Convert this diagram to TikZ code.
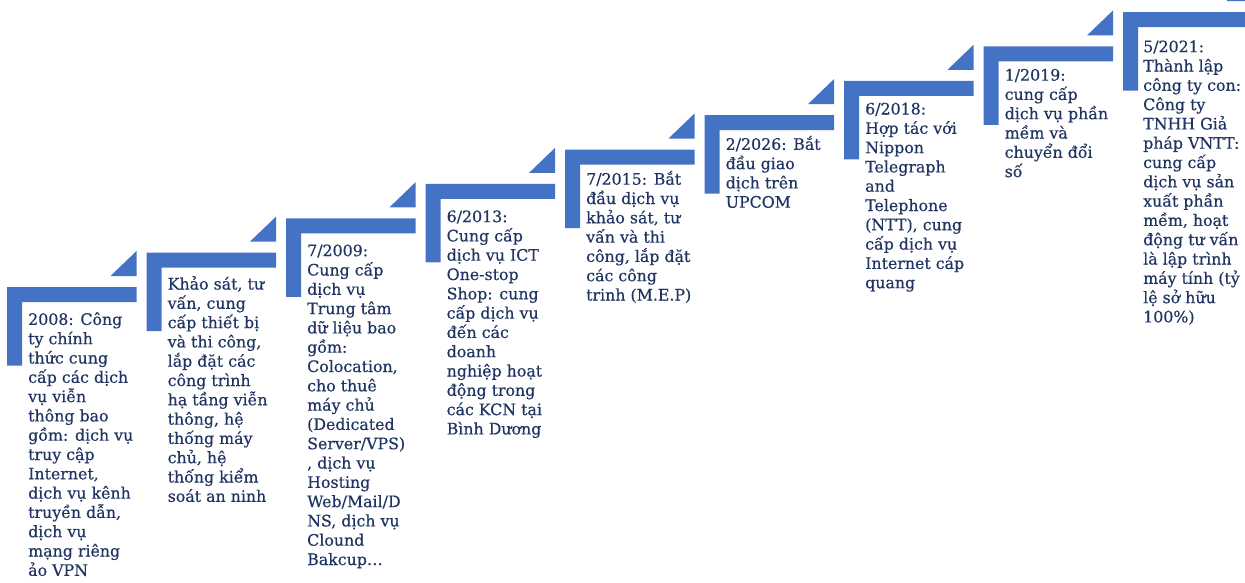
\documentclass[tikz,border=0pt]{standalone}
\usepackage{fontspec}
\setmainfont{DejaVu Serif}
\newfontfamily\stepfont{DejaVu Serif}[FakeBold=0.4]
\definecolor{stepblue}{HTML}{4472C4}
\definecolor{steptext}{HTML}{1F3462}
\tikzset{
  steplabel/.style={anchor=north west, inner sep=0pt, align=left, text=steptext,
    font=\stepfont\fontsize{15.8}{19.3}\selectfont},
  stepfill/.style={fill=stepblue, draw=none},
}
\newcommand\stepcorner[2]{%
  \fill[stepfill] (#1,#2) -- ++(129.5,0) -- ++(0,15) -- ++(-114.5,0) -- ++(0,63.5) -- ++(-15,0) -- cycle;
  \fill[stepfill] (#1+129.5,#2-11) -- ++(0,-25) -- ++(-26,25) -- cycle;
}
\newcommand\fs{\rule{0pt}{16pt}}
\begin{document}
\begin{tikzpicture}[x=1pt,y=-1pt]
\useasboundingbox (0,0) rectangle (1245,582);
\clip (0,0) rectangle (1245,582);
\fill[white] (0,0) rectangle (1245,582);
\stepcorner{7}{287}
\stepcorner{146.5}{252.6}
\stepcorner{286}{218.3}
\stepcorner{425.5}{183.9}
\stepcorner{565}{149.5}
\stepcorner{704.5}{115.1}
\stepcorner{844}{80.8}
\stepcorner{983.5}{46.4}
\stepcorner{1123}{12}

\node[steplabel] (s1) at (28,287+37.7-16) {\fs 2008: Công\\ty chính\\thức cung\\cấp các dịch\\vụ viễn\\thông bao\\gồm: dịch vụ\\truy cập\\Internet,\\dịch vụ kênh\\truyền dẫn,\\dịch vụ\\mạng riêng\\ảo VPN};
\node[steplabel] (s2) at (167.5,252.6+36.7-16) {\fs Khảo sát, tư\\vấn, cung\\cấp thiết bị\\và thi công,\\lắp đặt các\\công trình\\hạ tầng viễn\\thông, hệ\\thống máy\\chủ, hệ\\thống kiểm\\soát an ninh};
\node[steplabel] (s3) at (307,218.3+37.7-16) {\fs 7/2009:\\Cung cấp\\dịch vụ\\Trung tâm\\dữ liệu bao\\gồm:\\Colocation,\\cho thuê\\máy chủ\\(Dedicated\\Server/VPS)\\, dịch vụ\\Hosting\\Web/Mail/D\\NS, dịch vụ\\Clound\\Bakcup…};
\node[steplabel] (s4) at (446.5,183.9+38-16) {\fs 6/2013:\\Cung cấp\\dịch vụ ICT\\One-stop\\Shop: cung\\cấp dịch vụ\\đến các\\doanh\\nghiệp hoạt\\động trong\\các KCN tại\\Bình Dương};
\node[steplabel] (s5) at (586,149.5+35-16) {\fs 7/2015: Bắt\\đầu dịch vụ\\khảo sát, tư\\vấn và thi\\công, lắp đặt\\các công\\trinh (M.E.P)};
\node[steplabel] (s6) at (725.5,115.1+34.5-16) {\fs 2/2026: Bắt\\đầu giao\\dịch trên\\UPCOM};
\node[steplabel] (s7) at (865,80.8+33.5-16) {\fs 6/2018:\\Hợp tác với\\Nippon\\Telegraph\\and\\Telephone\\(NTT), cung\\cấp dịch vụ\\Internet cáp\\quang};
\node[steplabel] (s8) at (1004.5,46.4+34-16) {\fs 1/2019:\\cung cấp\\dịch vụ phần\\mềm và\\chuyển đổi\\số};
\node[steplabel] (s9) at (1143,12+40-16) {\fs 5/2021:\\Thành lập\\công ty con:\\Công ty\\TNHH Giả\\pháp VNTT:\\cung cấp\\dịch vụ sản\\xuất phần\\mềm, hoạt\\động tư vấn\\là lập trình\\máy tính (tỷ\\lệ sở hữu\\100\%)};
\end{tikzpicture}
\end{document}
